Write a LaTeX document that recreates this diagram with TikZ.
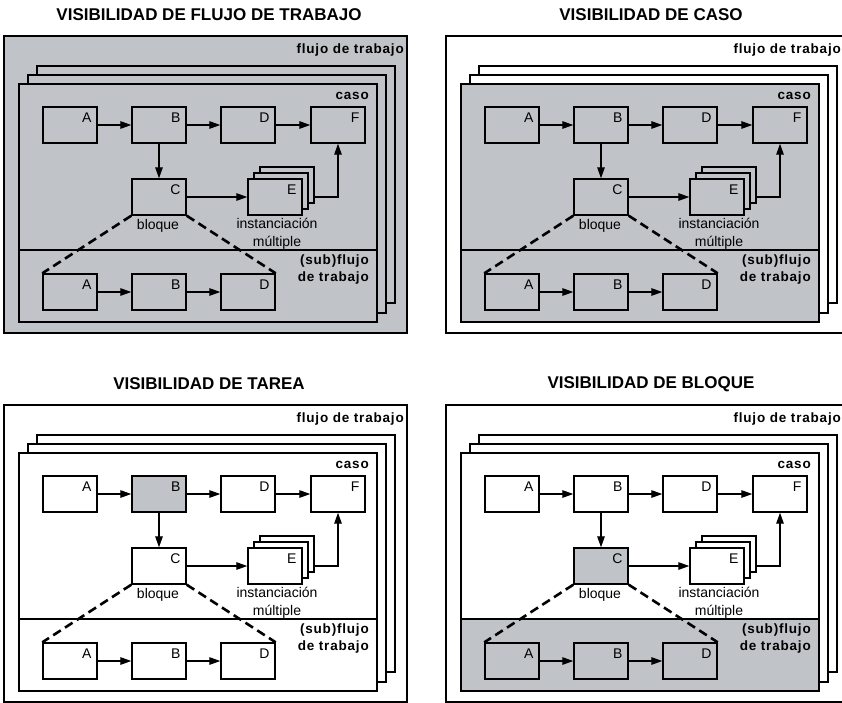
\documentclass[tikz,border=0pt]{standalone}
\usepackage{fontspec}
\setmainfont{Liberation Sans}
\newfontfamily\spacedsans[LetterSpace=6]{Liberation Sans}
\usetikzlibrary{arrows.meta,positioning}

\definecolor{visgray}{RGB}{192,195,200}

\tikzset{
  frame/.style={draw, line width=1.4pt},
  task/.style={draw, line width=1.4pt, minimum width=54pt, minimum height=36pt, inner sep=0pt},
  tag/.style={anchor=north east, inner sep=0pt, xshift=-6pt, yshift=-6pt, font=\fontsize{14}{16}\selectfont},
  arr/.style={-{Triangle[length=11pt,width=7.5pt]}, line width=1.3pt},
  wfdash/.style={line width=2.6pt, dash pattern=on 9pt off 5pt},
  heading/.style={font=\fontsize{17}{20}\selectfont\bfseries},
  boldtag/.style={font=\fontsize{13.5}{17}\selectfont\spacedsans\bfseries, inner sep=0pt},
  plaintag/.style={font=\fontsize{14}{18}\selectfont, inner sep=0pt, align=center},
  wfshift/.style={},
  % fills, set again in each panel
  outerfill/.style={fill=white},
  backfill/.style={fill=white},
  casefill/.style={fill=white},
  subfill/.style={fill=white},
  taskfill/.style={fill=white},
  Bfill/.style={taskfill},
  Cfill/.style={taskfill},
  subtaskfill/.style={fill=white},
}

\newcommand\wfpanel[2]{%
  \node[heading] (#1title) at (209,15) {#2};
  \draw[frame, outerfill] (4,36) rectangle (407,333);
  \node[boldtag, anchor=east, wfshift] (#1wf) at (404,50) {flujo de trabajo};
  \draw[frame, backfill] (37,66) rectangle (395,303);
  \draw[frame, backfill] (28,75) rectangle (386,313);
  \path[casefill] (19,84) rectangle (377,250);
  \path[subfill] (19,250) rectangle (377,322);
  \draw[frame] (19,84) rectangle (377,322);
  \draw[frame] (19,250) -- (377,250);
  \node[boldtag, anchor=east] (#1case) at (369,96) {caso};
  \node[boldtag, anchor=north east, align=right] (#1sub) at (369,255) {(sub)flujo\\de trabajo};
  % tasks
  \node[task, taskfill, label={[tag]north east:A}] (#1A) at (70,125) {};
  \node[task, Bfill, label={[tag]north east:B}] (#1B) at (159,125) {};
  \node[task, taskfill, label={[tag]north east:D}] (#1D) at (248,125) {};
  \node[task, taskfill, label={[tag]north east:F}] (#1F) at (338,125) {};
  \node[task, Cfill, label={[tag]north east:C}] (#1C) at (159,197) {};
  \node[task, taskfill] (#1E3) at (287,185) {};
  \node[task, taskfill] (#1E2) at (281,191) {};
  \node[task, taskfill, label={[tag]north east:E}] (#1E) at (275,197) {};
  \node[plaintag, anchor=north] (#1bloque) at (158,219) {bloque};
  \node[plaintag, anchor=north] (#1multi) at (277,218) {instanciación\\múltiple};
  % subflow
  \node[task, subtaskfill, label={[tag]north east:A}] (#1sA) at (70,292) {};
  \node[task, subtaskfill, label={[tag]north east:B}] (#1sB) at (159,292) {};
  \node[task, subtaskfill, label={[tag]north east:D}] (#1sD) at (248,292) {};
  % connectors
  \draw[arr] (#1A) -- (#1B);
  \draw[arr] (#1B) -- (#1D);
  \draw[arr] (#1D) -- (#1F);
  \draw[arr] (#1B) -- (#1C);
  \draw[arr] (#1C) -- (#1E);
  \draw[arr] (#1E3.east |- #1E.east) -| (#1F.south);
  \draw[arr] (#1sA) -- (#1sB);
  \draw[arr] (#1sB) -- (#1sD);
  \draw[wfdash] (#1C.south west) -- (#1sA.north west);
  \draw[wfdash] (#1C.south east) -- (#1sD.north east);
}

\begin{document}
\begin{tikzpicture}[x=1pt, y=-1pt]
\path[use as bounding box] (0,0) rectangle (842,702);
\clip (0,0) rectangle (842,702);

\begin{scope}[outerfill/.style={fill=visgray}, backfill/.style={fill=visgray},
  casefill/.style={fill=visgray}, subfill/.style={fill=visgray},
  taskfill/.style={fill=visgray}, subtaskfill/.style={fill=visgray}]
\wfpanel{wf}{VISIBILIDAD DE FLUJO DE TRABAJO}
\end{scope}

\begin{scope}[shift={(442,0)}, wfshift/.style={xshift=-5pt},
  casefill/.style={fill=visgray}, subfill/.style={fill=visgray},
  taskfill/.style={fill=visgray}, subtaskfill/.style={fill=visgray}]
\wfpanel{ca}{VISIBILIDAD DE CASO}
\end{scope}

\begin{scope}[shift={(0,369)}, Bfill/.style={fill=visgray}]
\wfpanel{ta}{VISIBILIDAD DE TAREA}
\end{scope}

\begin{scope}[shift={(442,369)}, wfshift/.style={xshift=-5pt},
  Cfill/.style={fill=visgray}, subfill/.style={fill=visgray},
  subtaskfill/.style={fill=visgray}]
\wfpanel{bl}{VISIBILIDAD DE BLOQUE}
\end{scope}
\end{tikzpicture}
\end{document}
